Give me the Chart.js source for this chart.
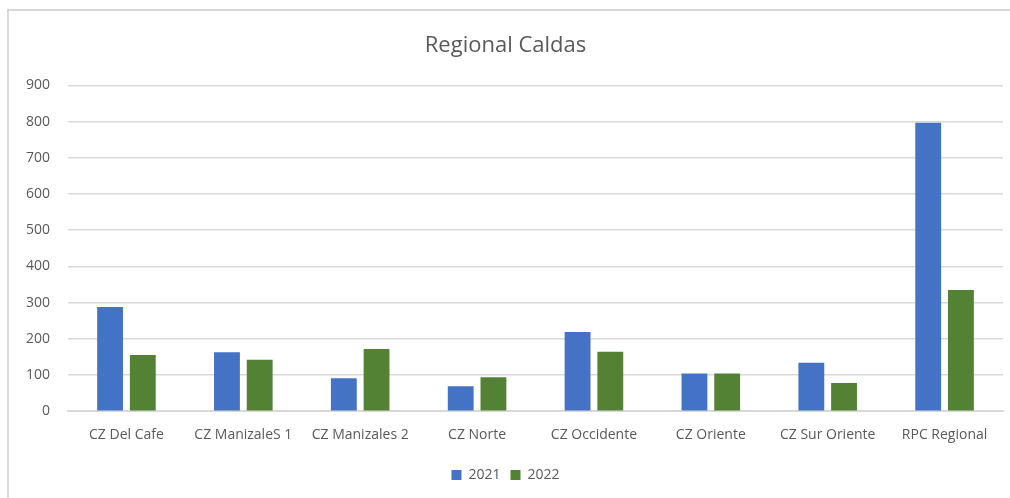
<!DOCTYPE html>
<html>
<head>
<meta charset="utf-8">
<script src="https://cdn.jsdelivr.net/npm/chart.js@4/dist/chart.umd.min.js"></script>
<style>
	html, body { margin: 0; padding: 0; background: #fff; }
	#wrap { position: relative; width: 1010px; height: 498px; }
	#frame { position: absolute; left: 7px; top: 9px; right: 0; bottom: 0; border-left: 2px solid #d9d9d9; border-top: 2px solid #d9d9d9; }
	canvas { position: absolute; left: 0; top: 0; }
</style>
</head>
<body>
<div id="wrap">
	<div id="frame"></div>
	<canvas id="canvasCaldas" width="1010" height="498"></canvas>
</div>
<script>
var categoryList = ['CZ Del Cafe', 'CZ ManizaleS 1', 'CZ Manizales 2', 'CZ Norte', 'CZ Occidente', 'CZ Oriente', 'CZ Sur Oriente', 'RPC Regional'];
var value2021 = [288, 163, 91, 69, 219, 104, 134, 797];
var value2022 = [155, 142, 172, 94, 164, 104, 78, 335];

/***********************************************************************************************
 * Regional Caldas - 2021 / 2022
 ***********************************************************************************************/
function drawCaldas() {
	var grey = '#595959';
	var font = "'Open Sans', 'Noto Sans', sans-serif";

	var chart = new Chart(document.getElementById('canvasCaldas'), {
		type: 'bar',
		data: {
			labels: categoryList,
			datasets: [{
				label: '2021',
				data: value2021,
				backgroundColor: '#4472c4',
				barPercentage: 0.79,
				categoryPercentage: 0.56
			}, {
				label: '2022',
				data: value2022,
				backgroundColor: '#548235',
				barPercentage: 0.79,
				categoryPercentage: 0.56
			}]
		},
		options: {
			responsive: false,
			animation: false,
			layout: {
				padding: { left: 8, right: 7, top: 31, bottom: 6 }
			},
			plugins: {
				title: {
					display: true,
					text: 'Regional Caldas',
					color: grey,
					font: { family: font, size: 22, weight: 'normal' },
					padding: { top: 2, bottom: 26 }
				},
				legend: {
					position: 'bottom',
					labels: {
						color: grey,
						font: { family: font, size: 14 },
						boxWidth: 10,
						boxHeight: 10,
						padding: 10
					}
				},
				tooltip: { enabled: false }
			},
			scales: {
				x: {
					grid: { display: false, drawTicks: false },
					border: { color: '#d9d9d9', width: 2 },
					ticks: {
						color: grey,
						font: { family: font, size: 14 },
						padding: 15,
						maxRotation: 0,
						autoSkip: false
					}
				},
				y: {
					min: 0,
					max: 900,
					grid: { color: '#d9d9d9', lineWidth: 1.5, drawTicks: false },
					border: { display: false },
					ticks: {
						stepSize: 100,
						color: grey,
						font: { family: font, size: 14 },
						padding: 18
					}
				}
			}
		}
	});
}

drawCaldas();
</script>
</body>
</html>
